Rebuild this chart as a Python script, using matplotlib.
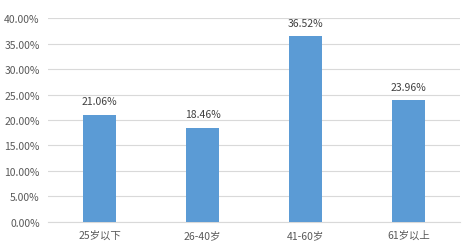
import matplotlib
matplotlib.use("Agg")
import matplotlib.pyplot as plt
from matplotlib.ticker import PercentFormatter

plt.rcParams['font.family'] = ['Noto Sans CJK SC', 'DejaVu Sans']

categories = ["25岁以下", "26-40岁", "41-60岁", "61岁以上"]
values = [21.06, 18.46, 36.52, 23.96]
yticks = [0, 5, 10, 15, 20, 25, 30, 35, 40]

fig = plt.figure(figsize=(4.72, 2.53), dpi=100)
ax = fig.add_axes([0.102, 0.1198, 0.872, 0.8039])

x = range(len(categories))
bars = ax.bar(x, values, width=0.317, color="#5B9BD5", zorder=3)
for xi, v in zip(x, values):
    ax.annotate(f"{v:.2f}%", (xi, v), xytext=(0, 6), textcoords="offset points",
                ha="center", va="bottom", fontsize=7.5, color="#404040")

ax.set_xlim(-0.5, len(categories) - 0.5)
ax.set_ylim(0, 40)
ax.set_yticks(yticks)
ax.yaxis.set_major_formatter(PercentFormatter(decimals=2))
ax.set_xticks(list(x))
ax.set_xticklabels(categories)
ax.grid(axis="y", color="#D9D9D9", linewidth=0.8, zorder=0)
for s in ["top", "right", "left"]:
    ax.spines[s].set_visible(False)
ax.spines["bottom"].set_color("#D9D9D9")
ax.tick_params(axis="both", length=0, labelsize=7.5, colors="#595959")
ax.tick_params(axis="x", pad=6)
ax.tick_params(axis="y", pad=6)

fig.savefig("out.png", dpi=100)
